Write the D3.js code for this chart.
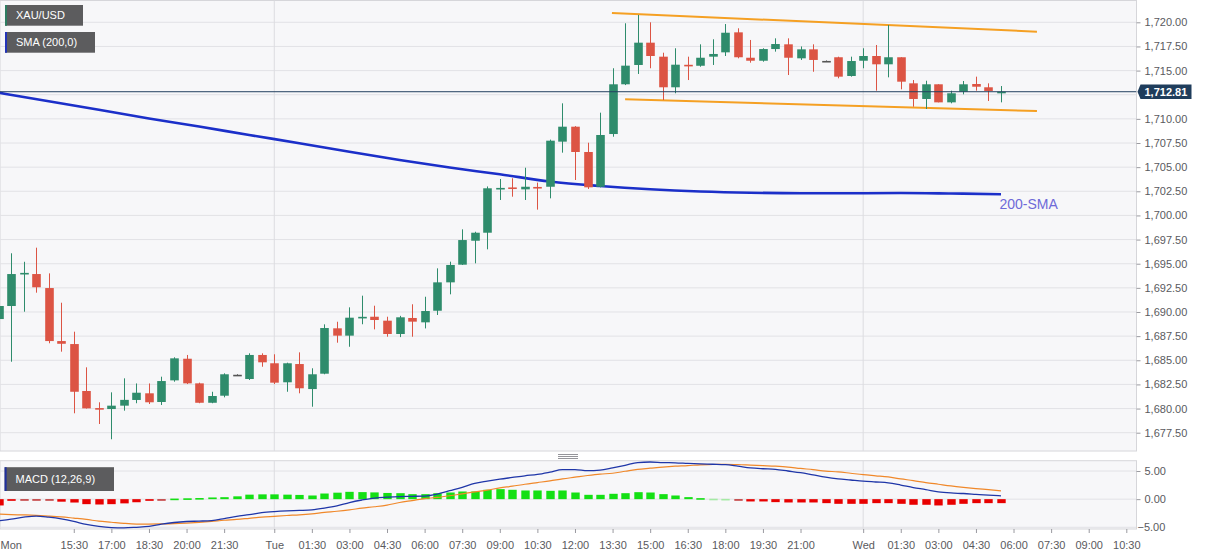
<!DOCTYPE html>
<html><head><meta charset="utf-8">
<script src="https://cdn.jsdelivr.net/npm/d3@7"></script>
<style>
body{margin:0;background:#fff;}
svg{display:block;font-family:Arial,"Liberation Sans",sans-serif;}
</style></head>
<body><svg id="chart" width="1207" height="555"></svg>
<script>
// ---------------- DATA ----------------
const symbol = "XAU/USD";
const smaLabel = "SMA (200,0)";
const macdLabel = "MACD (12,26,9)";
const smaTag = "200-SMA";
const lastPrice = 1712.81;

const opens  = [1689.27,1690.62,1693.98,1693.93,1692.48,1686.99,1686.68,1681.82,1680.05,1679.95,1680.30,1680.89,1681.58,1680.68,1682.92,1685.16,1682.61,1680.60,1681.33,1683.50,1683.06,1685.55,1684.69,1682.72,1684.61,1682.02,1683.61,1688.31,1687.55,1689.40,1689.51,1689.10,1687.72,1689.38,1688.93,1690.13,1693.07,1694.90,1697.38,1698.21,1702.70,1702.90,1702.70,1702.95,1702.97,1707.64,1709.19,1706.57,1702.97,1708.43,1713.58,1715.58,1717.89,1716.44,1713.27,1715.60,1715.50,1716.44,1716.89,1718.96,1716.33,1716.02,1717.23,1717.72,1716.27,1717.20,1716.00,1716.38,1714.44,1716.02,1716.51,1715.65,1716.38,1713.68,1712.06,1713.58,1711.71,1712.81,1713.61,1713.27,1712.75];
const highs  = [1691.97,1696.08,1695.20,1696.66,1694.00,1690.96,1687.96,1684.27,1680.65,1681.68,1683.13,1682.60,1682.60,1683.30,1685.31,1685.55,1682.68,1681.74,1683.65,1683.55,1685.72,1685.72,1685.62,1684.75,1685.82,1684.17,1688.72,1688.99,1690.48,1691.69,1690.65,1689.51,1689.60,1690.80,1691.58,1694.52,1695.21,1698.56,1698.31,1703.00,1703.77,1703.85,1704.94,1703.40,1707.85,1711.61,1709.25,1707.53,1710.64,1715.24,1719.90,1720.76,1720.00,1716.85,1717.31,1716.44,1717.72,1718.24,1719.82,1719.38,1718.17,1717.31,1718.34,1718.34,1717.50,1717.72,1716.05,1716.44,1716.44,1717.31,1717.65,1719.72,1716.38,1714.02,1713.95,1713.58,1712.92,1713.92,1714.37,1713.68,1713.40];
const lows   = [1688.45,1684.85,1690.03,1692.00,1686.76,1685.89,1679.51,1680.00,1678.40,1676.82,1679.78,1680.55,1680.47,1680.37,1682.78,1682.54,1680.55,1680.55,1681.16,1683.45,1682.96,1684.33,1682.54,1681.74,1681.58,1680.19,1683.55,1686.82,1686.40,1688.73,1688.20,1687.44,1687.40,1687.44,1688.30,1689.69,1691.83,1694.87,1695.04,1696.49,1701.60,1701.94,1701.60,1700.60,1701.77,1706.50,1703.67,1702.74,1702.90,1708.15,1713.50,1714.65,1715.24,1711.95,1712.65,1714.02,1715.40,1715.58,1716.51,1716.27,1715.82,1715.92,1716.96,1714.54,1716.10,1714.88,1715.95,1714.20,1714.37,1715.24,1712.92,1714.30,1713.06,1711.26,1711.02,1711.71,1711.61,1712.54,1712.92,1711.85,1711.71];
const closes = [1690.62,1693.93,1694.05,1692.56,1686.99,1686.71,1681.74,1680.02,1679.97,1680.30,1680.90,1681.64,1680.65,1682.85,1685.20,1682.61,1680.60,1681.30,1683.55,1683.50,1685.55,1684.79,1682.68,1684.69,1682.10,1683.55,1688.34,1687.55,1689.41,1689.50,1689.17,1687.72,1689.45,1689.00,1690.10,1693.07,1694.87,1697.45,1698.21,1702.81,1702.85,1702.75,1702.97,1702.80,1707.74,1709.19,1706.57,1702.91,1708.33,1713.58,1715.51,1717.89,1716.51,1713.27,1715.61,1715.50,1716.33,1716.72,1718.92,1716.38,1716.02,1717.23,1717.75,1716.33,1717.20,1716.10,1716.00,1714.37,1715.99,1716.51,1715.65,1716.38,1713.85,1712.06,1713.58,1711.71,1712.65,1713.58,1713.33,1712.89,1712.81];

// 200-SMA, read every 4th candle
const smaIndex  = [0,4,8,12,16,20,24,28,32,36,40,44,48,52,56,60,64,68,72,76,80];
const smaValues = [1712.71,1711.83,1710.94,1710.04,1709.21,1708.33,1707.48,1706.59,1705.74,1704.96,1704.26,1703.51,1703.05,1702.71,1702.48,1702.35,1702.30,1702.30,1702.32,1702.27,1702.20];

// drawn channel (candle index, price)
const channelUpper = [[48.95,1720.96],[82.87,1719.03]];
const channelLower = [[50.0,1712.03],[82.87,1710.81]];

// MACD panel
const macdValues = [-3.85,-3.55,-3.2,-3.0,-3.2,-3.5,-3.95,-4.5,-4.85,-5.05,-5.1,-5.0,-4.85,-4.45,-4.15,-3.97,-3.9,-3.8,-3.45,-3.05,-2.75,-2.4,-2.2,-2.07,-2.0,-1.9,-1.6,-1.2,-0.6,-0.15,0.2,0.35,0.46,0.5,0.55,0.9,1.5,2.1,2.8,3.2,3.55,3.85,4.15,4.4,4.8,5.25,5.25,5.05,5.15,5.55,6.0,6.5,6.6,6.5,6.45,6.35,6.26,6.2,6.13,5.85,5.55,5.4,5.3,5.0,4.7,4.3,3.9,3.6,3.4,3.2,3.05,2.9,2.5,2.05,1.7,1.3,1.1,1.0,0.85,0.7,0.59];
const signalValues = [-2.66,-2.75,-2.8,-2.88,-3.0,-3.15,-3.37,-3.6,-3.9,-4.1,-4.3,-4.42,-4.43,-4.4,-4.35,-4.25,-4.12,-3.95,-3.75,-3.6,-3.4,-3.2,-3.05,-2.9,-2.78,-2.6,-2.35,-2.15,-1.9,-1.6,-1.35,-1.05,-0.6,-0.25,0.1,0.3,0.6,0.95,1.3,1.6,2.0,2.3,2.65,2.95,3.25,3.6,3.9,4.2,4.45,4.6,4.95,5.3,5.5,5.7,5.85,5.95,6.1,6.15,6.2,6.15,6.05,5.95,5.85,5.7,5.45,5.25,4.98,4.85,4.6,4.35,4.15,3.95,3.6,3.3,2.95,2.65,2.35,2.1,1.88,1.68,1.47];
const histValues = [-1.12,-0.3,-0.25,-0.2,-0.25,-0.45,-0.6,-0.89,-0.95,-0.89,-0.75,-0.55,-0.3,-0.1,0.1,0.15,0.2,0.3,0.35,0.5,0.8,0.85,0.85,0.8,0.75,0.65,1.0,1.15,1.3,1.25,1.2,1.1,1.06,0.89,0.89,1.06,1.18,1.36,1.36,1.66,1.78,1.66,1.54,1.54,1.48,1.54,1.18,0.77,0.77,0.95,1.06,1.24,1.18,0.89,0.65,0.36,0.18,0.08,0.05,-0.05,-0.41,-0.41,-0.53,-0.59,-0.59,-0.59,-0.71,-0.83,-0.83,-0.83,-0.71,-0.71,-0.83,-1.0,-1.0,-1.12,-1.0,-0.83,-0.71,-0.71,-0.71];

// axes
const priceGrid = [1677.5,1680,1682.5,1685,1687.5,1690,1692.5,1695,1697.5,1700,1702.5,1705,1707.5,1710,1712.5,1715,1717.5,1720];
const priceTicks = [1677.5,1680,1682.5,1685,1687.5,1690,1692.5,1695,1697.5,1700,1702.5,1705,1707.5,1710,1715,1717.5,1720];
const macdTicks = [5,0,-5];
const timeTickIndex  = [0,6,9,12,15,18,22,25,28,31,34,37,40,43,46,49,52,55,58,61,64,69,72,75,78,81,84,87,90];
const timeTickLabels = ["Mon","15:30","17:00","18:30","20:00","21:30","Tue","01:30","03:00","04:30","06:00","07:30","09:00","10:30","12:00","13:30","15:00","16:30","18:00","19:30","21:00","Wed","01:30","03:00","04:30","06:00","07:30","09:00","10:30"];
const dayIndex = [22,69];

// ---------------- LAYOUT ----------------
const svg = d3.select("#chart");
const plotL = 0, plotR = 1136.5;
const mainT = 0.5, mainB = 451, macdT = 460.7, macdB = 529;
const x  = d3.scaleLinear().domain([0,90]).range([-1.4, 1126.3]);
const y  = d3.scaleLinear().domain([1677.5,1720]).range([432.7,22.3]);
const ym = d3.scaleLinear().domain([-5,5]).range([527.3,471]);
const bodyW = 8.6, histW = 8.4;
const GREEN = "#2f8c6c", RED = "#dc5444";

const defs = svg.append("defs");
defs.append("clipPath").attr("id","clipMain").append("rect")
  .attr("x",plotL).attr("y",mainT).attr("width",plotR-plotL).attr("height",mainB-mainT);
defs.append("clipPath").attr("id","clipMacd").append("rect")
  .attr("x",plotL).attr("y",macdT).attr("width",plotR-plotL).attr("height",macdB-macdT);

// panel backgrounds
svg.append("rect").attr("x",plotL).attr("y",mainT).attr("width",plotR-plotL).attr("height",mainB-mainT)
  .attr("fill","#f7f7f9").attr("stroke","#d6d6da");
svg.append("rect").attr("x",plotL).attr("y",macdT).attr("width",plotR-plotL).attr("height",macdB-macdT)
  .attr("fill","#f7f7f9").attr("stroke","#d6d6da");

// grid
const gMain = svg.append("g").attr("clip-path","url(#clipMain)");
gMain.selectAll("line.h").data(priceGrid).join("line")
  .attr("x1",plotL).attr("x2",plotR).attr("y1",d=>y(d)).attr("y2",d=>y(d))
  .attr("stroke","#e2e2e6").attr("stroke-width",1);
gMain.selectAll("line.v").data(dayIndex).join("line")
  .attr("x1",d=>x(d)).attr("x2",d=>x(d)).attr("y1",mainT).attr("y2",mainB)
  .attr("stroke","#dcdce0");
const gMacd = svg.append("g").attr("clip-path","url(#clipMacd)");
gMacd.selectAll("line.h").data(macdTicks).join("line")
  .attr("x1",plotL).attr("x2",plotR).attr("y1",d=>ym(d)).attr("y2",d=>ym(d))
  .attr("stroke","#e2e2e6");
gMacd.selectAll("line.v").data(dayIndex).join("line")
  .attr("x1",d=>x(d)).attr("x2",d=>x(d)).attr("y1",macdT).attr("y2",macdB)
  .attr("stroke","#dcdce0");

// SMA
const smaPts = smaIndex.map((d,i)=>[d, smaValues[i]]);
gMain.append("path").datum(smaPts)
  .attr("d", d3.line().x(d=>x(d[0])).y(d=>y(d[1])).curve(d3.curveMonotoneX))
  .attr("fill","none").attr("stroke","#1b2fc9").attr("stroke-width",2.6);

// channel
[channelUpper, channelLower].forEach(c=>{
  gMain.append("path").datum(c)
    .attr("d", d3.line().x(d=>x(d[0])).y(d=>y(d[1])))
    .attr("fill","none").attr("stroke","#f5a023").attr("stroke-width",2);
});

// candles
const candles = opens.map((o,i)=>({i,o,h:highs[i],l:lows[i],c:closes[i]}));
const col = d => d.c > d.o ? GREEN : (d.c < d.o ? RED : "#555");
const cg = gMain.append("g");
cg.selectAll("line.w").data(candles).join("line")
  .attr("x1",d=>Math.round(x(d.i))+0.5).attr("x2",d=>Math.round(x(d.i))+0.5)
  .attr("y1",d=>y(d.h)).attr("y2",d=>y(d.l)).attr("stroke",col).attr("stroke-width",1);
cg.selectAll("rect.b").data(candles).join("rect")
  .attr("x",d=>Math.round(x(d.i))+0.5-bodyW/2).attr("width",bodyW)
  .attr("y",d=>y(Math.max(d.o,d.c)))
  .attr("height",d=>Math.max(1.6, Math.abs(y(d.o)-y(d.c))))
  .attr("fill",col);

// last price line
gMain.append("line").attr("x1",plotL).attr("x2",plotR)
  .attr("y1",y(lastPrice)).attr("y2",y(lastPrice))
  .attr("stroke","#23405f").attr("stroke-width",1);

// 200-SMA tag
svg.append("text").attr("x",x(80)-1.5).attr("y",y(smaValues[smaValues.length-1])+15)
  .attr("font-size",14).attr("fill","#6e6ad8").text(smaTag);

// legend boxes
function legendBox(x0,y0,w,h,stripe,label){
  const g = svg.append("g");
  g.append("rect").attr("x",x0).attr("y",y0).attr("width",w).attr("height",h).attr("fill","#5c5c5e");
  g.append("rect").attr("x",x0).attr("y",y0).attr("width",2).attr("height",h).attr("fill",stripe);
  g.append("text").attr("x",x0+11).attr("y",y0+h/2+4).attr("font-size",11).attr("fill","#fff").text(label);
}
legendBox(5,5,78,20.7,"#2e7d62",symbol);
legendBox(5,32,90,20.7,"#2434b8",smaLabel);
legendBox(4.6,467.2,109.4,23.8,"#1f2f9e",macdLabel);

// MACD panel
const histData = histValues.map((v,i)=>({i,v}));
const hcol = d => d.v >= 0 ? (d.v < 0.1 ? "#a5eaa5" : "#14e014") : (d.v > -0.27 ? "#c23a3a" : "#e80000");
gMacd.selectAll("rect.hist").data(histData).join("rect")
  .attr("x",d=>Math.round(x(d.i))+0.5-histW/2).attr("width",histW)
  .attr("y",d=>Math.min(ym(d.v),ym(0))).attr("height",d=>Math.max(1.6,Math.abs(ym(d.v)-ym(0))))
  .attr("fill",hcol);
const lineM = d3.line().x((d,i)=>x(i)).y(d=>ym(d)).curve(d3.curveMonotoneX);
gMacd.append("path").datum(signalValues).attr("d",lineM)
  .attr("fill","none").attr("stroke","#f0882a").attr("stroke-width",1.2);
gMacd.append("path").datum(macdValues).attr("d",lineM)
  .attr("fill","none").attr("stroke","#1f36a8").attr("stroke-width",1.3);

// separator handle
const hx = 568;
[454.5,456.5,458.5].forEach(yy=>svg.append("line").attr("x1",hx-10).attr("x2",hx+10)
  .attr("y1",yy).attr("y2",yy).attr("stroke","#7a7a80").attr("stroke-width",0.8));

// right axes
function styleAxis(g){
  g.select(".domain").remove();
  g.selectAll(".tick line").attr("stroke","#9a9aa0");
  g.selectAll(".tick text").attr("fill","#5a5a5e").attr("font-size",11)
    .attr("font-family","Arial, 'Liberation Sans', sans-serif");
}
const axP = svg.append("g").attr("transform",`translate(${plotR},0)`)
  .call(d3.axisRight(y).tickValues(priceTicks).tickFormat(d3.format(",.2f")).tickSize(4).tickPadding(4));
styleAxis(axP);
const axM = svg.append("g").attr("transform",`translate(${plotR},0)`)
  .call(d3.axisRight(ym).tickValues(macdTicks).tickFormat(d3.format(".2f")).tickSize(4).tickPadding(4));
styleAxis(axM);
axM.selectAll(".tick").filter(d=>d<0).select("line").remove();
axM.selectAll(".tick").filter(d=>d<0).select("text").attr("x",1);

// time axis
const axT = svg.append("g").attr("transform",`translate(0,${macdB})`)
  .call(d3.axisBottom(x).tickValues(timeTickIndex).tickFormat((d,i)=>timeTickLabels[i]).tickSize(4).tickPadding(8));
styleAxis(axT);
axT.selectAll(".tick").filter(d=>d===0).select("text").attr("text-anchor","start").attr("x",1.4);

// last price tag
const py = y(lastPrice);
const tag = svg.append("g");
tag.append("path")
  .attr("d",`M${plotR+1},${py} L${plotR+4},${py-7.3} L${plotR+55},${py-7.3} L${plotR+55},${py+7.3} L${plotR+4},${py+7.3} Z`)
  .attr("fill","#1f3d5c");
tag.append("text").attr("x",plotR+8).attr("y",py+4).attr("font-size",11).attr("font-weight","bold")
  .attr("fill","#fff").text(d3.format(",.2f")(lastPrice));
</script>
</body></html>
